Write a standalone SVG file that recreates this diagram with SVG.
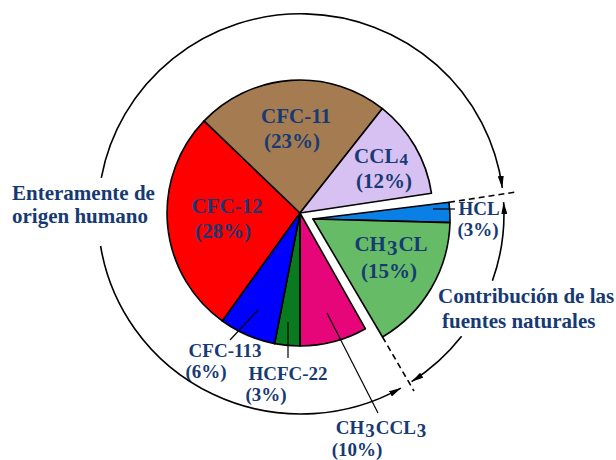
<svg xmlns="http://www.w3.org/2000/svg" width="616" height="460" viewBox="0 0 616 460">
<style>
.sl{stroke:#000;stroke-width:1.6;stroke-linejoin:round}
.t{font-family:"Liberation Serif","Times New Roman",serif;font-weight:bold;font-size:21px;fill:#173A72;text-anchor:middle}
.s{font-size:19px}
.side{font-family:"Liberation Serif","Times New Roman",serif;font-weight:bold;font-size:21px;fill:#173A72}
.ld{stroke:#000;stroke-width:1.2;fill:none}
.arc{stroke:#000;stroke-width:1.6;fill:none;marker-end:url(#ah);marker-start:url(#ah)}
.dash{stroke:#000;stroke-width:1.6;fill:none;stroke-dasharray:6 4}
</style>
<defs>
<marker id="ah" viewBox="0 0 12 6" refX="12" refY="3" markerWidth="12" markerHeight="6" markerUnits="userSpaceOnUse" orient="auto-start-reverse">
<path d="M0,0 L12,3 L0,6 z" fill="#000"/>
</marker>
</defs>
<rect width="616" height="460" fill="#fff"/>

<g id="cfc12">
<path class="sl" fill="#FF0000" d="M300,213 L222.4,321 A133,133 0 0 1 204.1,120.9 Z"/>
<text class="t" x="227" y="213">CFC-12</text>
<text class="t" x="223" y="238">(28%)</text>
</g>
<g id="cfc11">
<path class="sl" fill="#A57C52" d="M300,213 L204.1,120.9 A133,133 0 0 1 382.4,108.6 Z"/>
<text class="t" x="296" y="123">CFC-11</text>
<text class="t" x="292" y="148">(23%)</text>
</g>
<g id="ccl4">
<path class="sl" fill="#D7C0F2" d="M300,213 L382.4,108.6 A133,133 0 0 1 431.5,193.3 Z"/>
<text class="t" x="381" y="163">CCL<tspan font-size="17" dx="1" dy="2">4</tspan></text>
<text class="t" x="384" y="188">(12%)</text>
</g>
<g id="hcl">
<path class="sl" fill="#0A7FE6" d="M313,219 L449,202.3 A137,137 0 0 1 450,222.6 Z"/>
<text class="t s" x="479" y="215">HCL</text>
<text class="t s" x="478" y="236">(3%)</text>
</g>
<g id="ch3cl">
<path class="sl" fill="#66BB66" d="M313,219 L450,222.6 A137,137 0 0 1 382.5,337 Z"/>
<text class="t" x="391" y="251">CH<tspan dx="1" dy="4">3</tspan><tspan dx="1" dy="-4">CL</tspan></text>
<text class="t" x="389" y="278">(15%)</text>
</g>
<g id="ch3ccl3">
<path class="sl" fill="#E6067A" d="M300,213 L365.5,328.8 A133,133 0 0 1 300,346 Z"/>
<text class="t s" x="381" y="434">CH<tspan dx="1" dy="3">3</tspan><tspan dx="1" dy="-3">CCL</tspan><tspan dx="1" dy="3">3</tspan></text>
<text class="t s" x="357" y="456">(10%)</text>
</g>
<g id="hcfc22">
<path class="sl" fill="#0A7A20" d="M300,213 L300,346 A133,133 0 0 1 274.6,343.6 Z"/>
<text class="t s" x="288" y="380">HCFC-22</text>
<text class="t s" x="266" y="401">(3%)</text>
</g>
<g id="cfc113">
<path class="sl" fill="#0000FF" d="M300,213 L274.6,343.6 A133,133 0 0 1 222.4,321 Z"/>
<text class="t s" x="225" y="357">CFC-113</text>
<text class="t s" x="206" y="378">(6%)</text>
</g>
<g id="human">
<text class="side" x="12" y="200">Enteramente de</text>
<text class="side" x="12" y="223">origen humano</text>
</g>
<g id="natural">
<text class="side" x="438" y="303">Contribución de las</text>
<text class="side" x="442" y="328">fuentes naturales</text>
</g>

<g id="connectors">
<line class="ld" x1="433" y1="209" x2="455" y2="209"/>
<line class="ld" x1="258" y1="310" x2="230" y2="340"/>
<line class="ld" x1="288" y1="322" x2="288" y2="358"/>
<line class="ld" x1="327" y1="313" x2="378" y2="413"/>
<line class="dash" x1="449" y1="202.3" x2="516" y2="192"/>
<line class="dash" x1="382.5" y1="337" x2="414" y2="391"/>
<path class="arc" style="marker-end:none" d="M400.9,388.1 A203,200 0 0 1 100.6,246"/>
<path class="arc" style="marker-start:none" d="M101.3,177.9 A203,200 0 0 1 502.3,187.9"/>
<path class="arc" style="marker-end:none" d="M503.6,202.1 A203,200 0 0 1 492.4,280.8"/>
<path class="arc" style="marker-start:none" d="M461.6,336.3 A203,200 0 0 1 411.6,381.7"/>
</g>
</svg>
